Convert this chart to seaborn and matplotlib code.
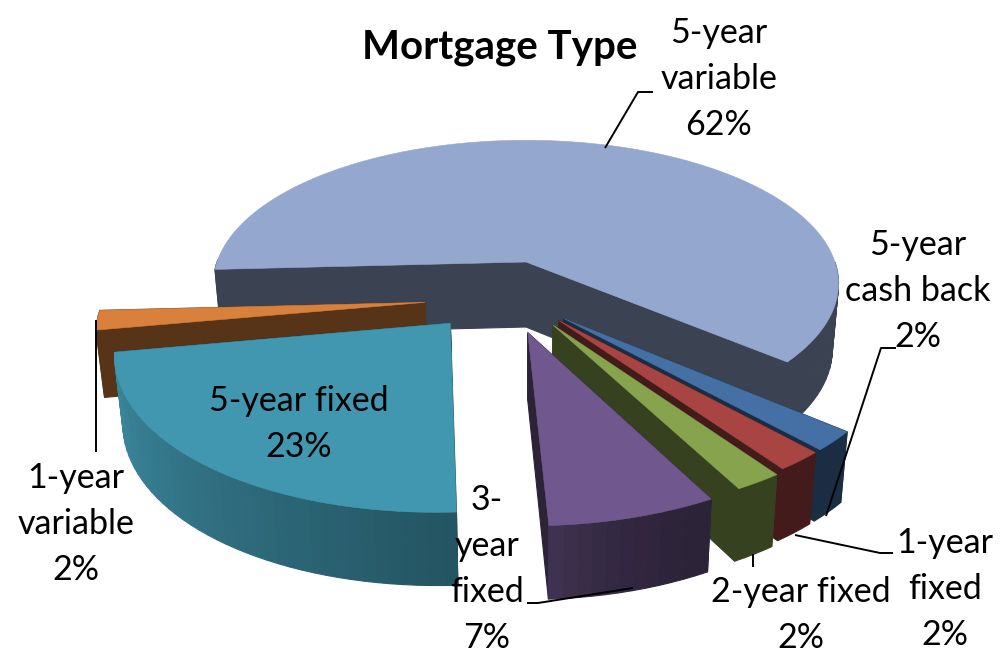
import numpy as np
import seaborn as sns
import matplotlib.pyplot as plt
from matplotlib.patches import Polygon

# -----------------------------
# Data
# -----------------------------
labels = ["5-year variable", "5-year cash back", "1-year fixed", "2-year fixed",
          "3-year fixed", "5-year fixed", "1-year variable"]
shares = [62, 2, 2, 2, 7, 23, 2]
label_text = ["5-year\nvariable\n62%", "5-year\ncash back\n2%", "1-year\nfixed\n2%",
              "2-year fixed\n2%", "3-\nyear\nfixed\n7%", "5-year fixed\n23%",
              "1-year\nvariable\n2%"]
top_colors = ["#94A8CF", "#4470A5", "#A84442", "#87A34D", "#70588E", "#4197AF", "#D9813C"]

# -----------------------------
# Look of the fake 3D pie
# -----------------------------
explode = [0, 0.16, 0.16, 0.155, 0.02, 0.37, 0.315]
drop = [0, 0.27, 0.27, 0.29, 0.45, 0.12, 0.24]
draw_order = [0, 6, 1, 2, 3, 4, 5]
START = 267
CX, CY = 526, 262
RX, RY = 309, 140
PERSP = 0.15
DEPTH = 65

sns.set_theme(style="white")
plt.rcParams["font.family"] = ["Lato", "DejaVu Sans"]


def project(u, v, lift=0.0):
    s = 1 / (1 - PERSP * v)
    # lower edge of the walls pulls in a little towards the centre
    return CX + RX * u * s * (1 - 0.02 * lift), CY + RY * v * s + lift * DEPTH * s ** 0.5


def shade(color, factor):
    return tuple(np.array(sns.color_palette([color])[0]) * factor)


fig = plt.figure(figsize=(10.02, 6.69), dpi=100)
ax = fig.add_axes([0, 0, 1, 1])
ax.set_xlim(0, 1002)
ax.set_ylim(669, 0)
ax.axis("off")

starts = START + np.concatenate([[0], np.cumsum(shares)[:-1]]) * 3.6

for i in draw_order:
    angle = starts[i]
    sweep = shares[i] * 3.6
    mid = np.radians(angle + sweep / 2)
    ou = explode[i] * np.sin(mid)
    ov = -explode[i] * np.cos(mid) + drop[i]
    thetas = np.radians(np.linspace(angle, angle + sweep, max(int(sweep / 2), 4) + 1))
    us = ou + np.sin(thetas)
    vs = ov - np.cos(thetas)

    faces = []
    # outer wall, split so it can be shaded along the arc
    for j in range(len(thetas) - 1):
        # back part of the rim can't be seen
        if -np.cos(thetas[j]) < 0 and -np.cos(thetas[j + 1]) < 0:
            continue
        quad = [project(us[j], vs[j]), project(us[j + 1], vs[j + 1]),
                project(us[j + 1], vs[j + 1], 1), project(us[j], vs[j], 1)]
        pos = j / (len(thetas) - 2)
        f = 0.40
        if i == 5:
            f = 0.56 + 0.36 * pos  # bright at the left end, dark at the right
        elif i == 4:
            f = 0.40 + 0.16 * pos ** 2
        faces.append(((vs[j] + vs[j + 1]) / 2, quad, shade(top_colors[i], f)))
    # the two cut walls
    for u_end, v_end in [(us[0], vs[0]), (us[-1], vs[-1])]:
        quad = [project(ou, ov), project(u_end, v_end),
                project(u_end, v_end, 1), project(ou, ov, 1)]
        faces.append(((ov + v_end) / 2, quad, shade(top_colors[i], 0.40)))

    for _, quad, col in sorted(faces, key=lambda f: f[0]):
        ax.add_patch(Polygon(quad, closed=True, facecolor=col, edgecolor=col, linewidth=0.8))

    top = [project(ou, ov)] + [project(a, b) for a, b in zip(us, vs)]
    ax.add_patch(Polygon(top, closed=True, facecolor=top_colors[i], edgecolor=top_colors[i],
                         linewidth=0.4))

# -----------------------------
# Leader lines and text
# -----------------------------
leaders = [
    ([653, 638, 605], [92, 92, 148]),
    ([896, 881, 826], [348, 348, 516]),
    ([893, 880, 795], [553, 553, 535]),
    ([753, 753], [554, 567]),
    ([527, 538, 633], [603, 603, 588]),
    ([96, 96], [320, 452]),
]
for xs, ys in leaders:
    ax.plot(xs, ys, color="black", lw=1.4, solid_capstyle="butt", zorder=5)

label_pos = [(719, 79), (918, 291), (945, 589), (801, 615), (487, 569), (299, 424), (76, 524)]
for txt, (x, y) in zip(label_text, label_pos):
    ax.text(x, y, txt, ha="center", va="center", fontsize=24.5, color="black",
            linespacing=1.53, zorder=6)

ax.text(500, 48, "Mortgage Type", ha="center", va="center", fontsize=29,
        fontweight="bold", color="black")

fig.savefig("out.png", dpi=100)
